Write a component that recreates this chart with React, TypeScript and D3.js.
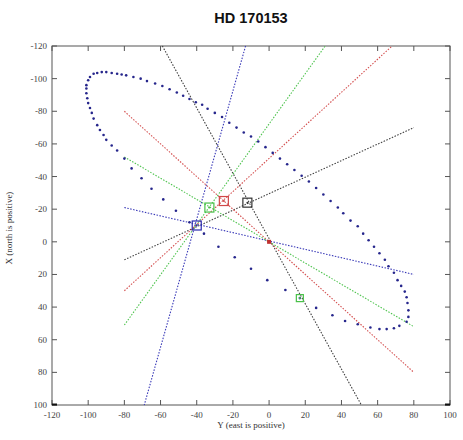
import React from "react";
import * as d3 from "d3";

// orbit points (Y east, X north)
const orbitEast = [
  -101, -100, -99, -97, -95, -92.5, -90, -87, -84, -81.5, -79, -75, -71, -67.5, -63, -59, -55, -51, -47.5, -44,
  -40.5, -37, -34, -30, -26, -22, -18, -14, -10, -6, -2, 2, 6, 10, 14, 18, 22, 26, 30, 34,
  38, 41, 45, 49, 52, 55, 58, 61, 64, 66, 69, 71, 73, 75, 76, 76.5, 77, 77, 76, 72,
  69, 65, 61, 56, 49, 42, 35, 26, 17, 9, -1, -10, -19, -28, -36, -44, -51.5, -58.5, -65, -70.5,
  -76, -80, -84, -87, -90, -91.5, -93.5, -95, -97, -98, -99, -100, -100.5, -101, -101,
];
const orbitNorth = [
  -96, -99, -101, -103, -103.5, -104, -104, -103.5, -103, -102.5, -102, -101, -100, -98.5, -97, -95.5, -93.5, -91.5, -89.5, -87.5,
  -85.5, -84, -81.5, -79, -76.5, -73, -70, -67, -64.5, -61.5, -58, -54.5, -51, -47.5, -44, -40.5, -37, -33, -29, -25,
  -21, -17.5, -13, -9.5, -5, -1, 3, 7, 11, 15, 19, 23.5, 27, 30.5, 34, 37.5, 42, 46, 49, 51.5,
  53, 53.5, 53.5, 52.5, 50.5, 48.5, 45, 40.5, 34.5, 29.5, 23.5, 16.5, 9.5, 3, -5, -12, -19, -26, -32.5, -39,
  -45, -51, -56, -59, -62.5, -65.5, -68.5, -71.5, -75.5, -79, -82, -85, -88, -91, -94,
];

// dotted lines: colour, east1, north1, east2, north2
const lineColors = ["#404040", "#404040", "#3a3ab8", "#3a3ab8", "#d45050", "#d45050", "#50c450", "#50c450"];
const lineEast1 = [-59, -80, -13, -80, -80, -80, -80, -80];
const lineNorth1 = [-120, 11, -120, -21, -80, 30, -52, 51];
const lineEast2 = [51, 80, -69, 80, 80, 68, 80, 31];
const lineNorth2 = [100, -70, 100, 20, 80, -120, 52, -120];

// square markers
const markColors = ["#2b2bb0", "#d04848", "#48c048", "#333333", "#48c048"];
const markEast = [-40, -25, -33, -12, 17];
const markNorth = [-10, -25, -21, -24, 34.5];
const markSizes = [9, 9, 9, 9, 7];

const W = 463;
const H = 440;

const App = () => {
  const x = d3.scaleLinear().domain([-120, 100]).range([52, 450]);
  const y = d3.scaleLinear().domain([-120, 100]).range([46, 405]);
  const xTicks = x.ticks(11);
  const yTicks = y.ticks(11);
  const tickFont = "'Liberation Serif', 'DejaVu Serif', serif";

  return (
    <svg width={W} height={H} style={{ position: "absolute", left: 0, top: 0, background: "#fff" }}>
      <text x={251} y={23} textAnchor="middle" fontFamily="'Liberation Sans', Arial, sans-serif" fontWeight="bold" fontSize={14.5} fill="#111">
        HD 170153
      </text>

      {/* frame */}
      <rect x={x(-120)} y={y(-120)} width={x(100) - x(-120)} height={y(100) - y(-120)} fill="none" stroke="#555" strokeWidth={1} />

      {/* ticks */}
      {xTicks.map((t) => (
        <g key={"xt" + t}>
          <line x1={x(t)} x2={x(t)} y1={y(100)} y2={y(100) - 5} stroke="#555" />
          <line x1={x(t)} x2={x(t)} y1={y(-120)} y2={y(-120) + 5} stroke="#555" />
          <text x={x(t)} y={y(100) + 13} textAnchor="middle" fontFamily={tickFont} fontSize={9} fill="#444">
            {t}
          </text>
        </g>
      ))}
      {yTicks.map((t) => (
        <g key={"yt" + t}>
          <line x1={x(-120)} x2={x(-120) + 5} y1={y(t)} y2={y(t)} stroke="#555" />
          <line x1={x(100)} x2={x(100) - 5} y1={y(t)} y2={y(t)} stroke="#555" />
          <text x={x(-120) - 5} y={y(t) + 3} textAnchor="end" fontFamily={tickFont} fontSize={9} fill="#444">
            {t}
          </text>
        </g>
      ))}
      <line x1={x(-120)} x2={x(-120) + 5} y1={y(100) - 0.5} y2={y(100) - 0.5} stroke="#111" strokeWidth={2} />
      <line x1={x(100) - 5} x2={x(100)} y1={y(100) - 0.5} y2={y(100) - 0.5} stroke="#111" strokeWidth={2} />

      <text x={251} y={428} textAnchor="middle" fontFamily={tickFont} fontSize={9} fill="#333">
        Y (east is positive)
      </text>
      <text transform="translate(12,228) rotate(-90)" textAnchor="middle" fontFamily={tickFont} fontSize={9} fill="#333">
        X (north is positive)
      </text>

      {/* dotted lines */}
      {lineColors.map((c, i) => (
        <line
          key={"l" + i}
          x1={x(lineEast1[i])}
          y1={y(lineNorth1[i])}
          x2={x(lineEast2[i])}
          y2={y(lineNorth2[i])}
          stroke={c}
          strokeWidth={1.1}
          strokeDasharray="1.5,1.5"
        />
      ))}

      {/* orbit */}
      {orbitEast.map((e, i) => (
        <circle key={"o" + i} cx={x(e)} cy={y(orbitNorth[i])} r={1.3} fill="#26268c" />
      ))}

      {/* markers */}
      {markColors.map((c, i) => (
        <g key={"m" + i}>
          <rect
            x={x(markEast[i]) - markSizes[i] / 2}
            y={y(markNorth[i]) - markSizes[i] / 2}
            width={markSizes[i]}
            height={markSizes[i]}
            fill="none"
            stroke={c}
            strokeWidth={1.2}
          />
          <circle cx={x(markEast[i])} cy={y(markNorth[i])} r={1} fill={c} />
        </g>
      ))}
      <rect x={x(0) - 2} y={y(0) - 2} width={4} height={4} fill="#c03030" />
    </svg>
  );
};

export default App;
